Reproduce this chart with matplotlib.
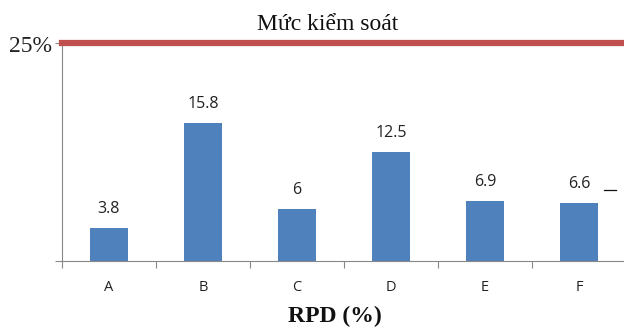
import matplotlib
matplotlib.use("Agg")
import matplotlib.pyplot as plt
from matplotlib.ticker import FixedLocator, NullFormatter
from matplotlib.transforms import ScaledTranslation

categories = ["A", "B", "C", "D", "E", "F"]
rpd_values = [3.8, 15.8, 6, 12.5, 6.9, 6.6]
value_labels = ["3.8", "15.8", "6", "12.5", "6.9", "6.6"]
control_level = 25
control_label = "Mức kiểm soát"
x_title = "RPD (%)"

bar_color = "#4F81BD"
limit_color = "#C0504D"
axis_color = "#888888"

fig = plt.figure(figsize=(6.24, 3.27), dpi=100)
ax = fig.add_axes([62 / 624, (327 - 261) / 327, 1 - 62 / 624, (261 - 43) / 327])

x = list(range(len(categories)))
ax.bar(x, rpd_values, width=0.4, color=bar_color, zorder=2)

for xi, v, lab in zip(x, rpd_values, value_labels):
    ax.annotate(lab, (xi, v), xytext=(0, 8), textcoords="offset points",
                ha="center", va="bottom", fontsize=11.5, family="Open Sans",
                color="#222222")

# control limit line across the top
ax.axhline(control_level, color=limit_color, linewidth=4.5, zorder=3, clip_on=False)
fig.text(328 / 624, 1 - 24 / 327, control_label, ha="center", va="center",
         fontsize=17, family="Liberation Serif", color="#111111")

ax.set_xlim(-0.5, 5.48)
ax.set_ylim(0, control_level)

# y axis: only the 25% tick is labelled, sitting just below the limit line
ax.set_yticks([0, control_level])
ax.set_yticklabels(["", "25%"], fontsize=17, family="Liberation Serif", color="#222222")
ax.tick_params(axis="y", length=5, width=0.8, color=axis_color, pad=2)
for t in ax.get_yticklabels():
    t.set_verticalalignment("center")
    t.set_transform(t.get_transform() + ScaledTranslation(0, -0.04, fig.dpi_scale_trans))

# x axis: labels at category centres, tick marks on boundaries
ax.set_xticks(x)
ax.set_xticklabels(categories, fontsize=10.5, family="Open Sans", color="#222222")
ax.tick_params(axis="x", which="major", length=0, pad=14)
ax.xaxis.set_minor_locator(FixedLocator([i - 0.5 for i in range(len(categories) + 1)]))
ax.xaxis.set_minor_formatter(NullFormatter())
ax.tick_params(axis="x", which="minor", length=5, width=0.8, color=axis_color)

for side in ("top", "right"):
    ax.spines[side].set_visible(False)
for side in ("left", "bottom"):
    ax.spines[side].set_color(axis_color)
    ax.spines[side].set_linewidth(0.8)

fig.text(335 / 624, 1 - 316 / 327, x_title, ha="center", va="center",
         fontsize=17, fontweight="bold", family="Liberation Serif", color="#111111")

# short legend dash beside the last bar
fig.add_artist(plt.Line2D([604 / 624, 616 / 624], [(327 - 190) / 327] * 2,
                          color="#111111", linewidth=0.9))

fig.savefig("out.png", dpi=100)
